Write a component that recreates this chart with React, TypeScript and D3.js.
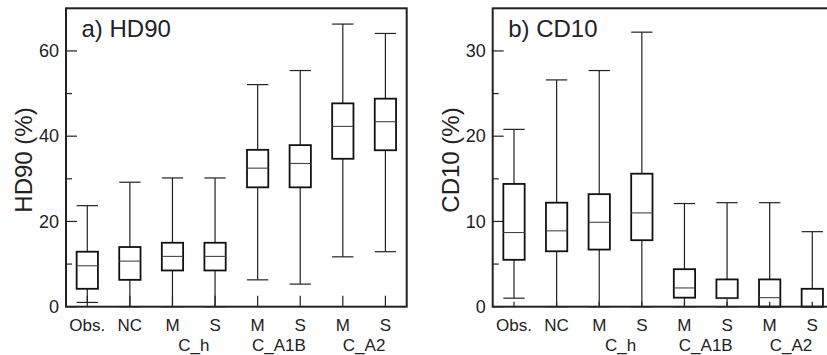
import React from "react";
import * as d3 from "d3";

const categories = ["Obs.", "NC", "M", "S", "M", "S", "M", "S"];
const groupLabels = ["C_h", "C_A1B", "C_A2"];
const groupStarts = [2, 4, 6];

const hd90Min = [1.0, 0, 0, 0, 6.3, 5.3, 11.7, 12.9];
const hd90Q1 = [4.2, 6.3, 8.5, 8.5, 28.0, 28.0, 34.7, 36.7];
const hd90Med = [9.6, 10.7, 11.8, 11.8, 32.5, 33.6, 42.3, 43.4];
const hd90Q3 = [12.9, 14.0, 15.0, 15.0, 36.8, 37.9, 47.7, 48.8];
const hd90Max = [23.7, 29.2, 30.2, 30.2, 52.1, 55.4, 66.3, 64.1];

const cd10Min = [1.0, 0, 0, 0, 0, 0, 0, 0];
const cd10Q1 = [5.5, 6.5, 6.7, 7.8, 1.06, 1.0, 0, 0];
const cd10Med = [8.7, 8.9, 9.9, 11.0, 2.2, 1.0, 1.06, 0];
const cd10Q3 = [14.4, 12.2, 13.2, 15.6, 4.4, 3.2, 3.2, 2.1];
const cd10Max = [20.8, 26.6, 27.7, 32.2, 12.1, 12.2, 12.2, 8.8];

const hd90Major = [0, 20, 40, 60];
const hd90Minor = [10, 30, 50];
const cd10Major = [0, 10, 20, 30];
const cd10Minor = [5, 15, 25];

const FONT = "'Liberation Sans', Arial, Helvetica, sans-serif";

type PanelProps = {
  x0: number;
  x1: number;
  yMax: number;
  title: string;
  yTitle: string;
  mins: number[];
  q1s: number[];
  meds: number[];
  q3s: number[];
  maxs: number[];
  major: number[];
  minor: number[];
  xTickLen: number;
};

function Panel(p: PanelProps) {
  const top = 8.3;
  const bottom = 306.7;
  const x = d3.scaleBand<number>().domain(d3.range(categories.length)).range([p.x0, p.x1]).padding(0);
  const y = d3.scaleLinear().domain([0, p.yMax]).range([bottom, top]);
  const bw = x.bandwidth();
  const boxW = bw * 0.5;
  const cx = (i: number) => (x(i) as number) + bw / 2;
  return (
    <g>
      {categories.map((_, i) => (
        <line key={"xt" + i} x1={cx(i)} x2={cx(i)} y1={bottom} y2={bottom - p.xTickLen} stroke="#222" strokeWidth={1.2} />
      ))}
      {p.major.map((v) => (
        <line key={"ym" + v} x1={p.x0} x2={p.x0 + 11} y1={y(v)} y2={y(v)} stroke="#222" strokeWidth={1.2} />
      ))}
      {p.minor.map((v) => (
        <line key={"yn" + v} x1={p.x0} x2={p.x0 + 6} y1={y(v)} y2={y(v)} stroke="#222" strokeWidth={1.2} />
      ))}
      {p.major.map((v) => (
        <text key={"yl" + v} x={p.x0 - 7} y={y(v)} dy="0.35em" textAnchor="end" fontSize={18} fill="#222" fontFamily={FONT}>
          {v}
        </text>
      ))}
      {categories.map((_, i) => {
        const c = cx(i);
        return (
          <g key={"b" + i}>
            <line x1={c} x2={c} y1={y(p.q3s[i])} y2={y(p.maxs[i])} stroke="#222" strokeWidth={1.2} />
            <line x1={c} x2={c} y1={y(p.q1s[i])} y2={y(p.mins[i])} stroke="#222" strokeWidth={1.2} />
            <line x1={c - boxW / 2} x2={c + boxW / 2} y1={y(p.maxs[i])} y2={y(p.maxs[i])} stroke="#222" strokeWidth={1.2} />
            <line x1={c - boxW / 2} x2={c + boxW / 2} y1={y(p.mins[i])} y2={y(p.mins[i])} stroke="#222" strokeWidth={1.2} />
            <rect x={c - boxW / 2} y={y(p.q3s[i])} width={boxW} height={y(p.q1s[i]) - y(p.q3s[i])} fill="none" stroke="#111" strokeWidth={1.8} />
            <line x1={c - boxW / 2} x2={c + boxW / 2} y1={y(p.meds[i])} y2={y(p.meds[i])} stroke="#444" strokeWidth={1.1} />
          </g>
        );
      })}
      <rect x={p.x0} y={top} width={p.x1 - p.x0} height={bottom - top} fill="none" stroke="#222" strokeWidth={2} />
      {categories.map((c, i) => (
        <text key={"xl" + i} x={cx(i)} y={331} textAnchor="middle" fontSize={17} fill="#222" fontFamily={FONT}>
          {c}
        </text>
      ))}
      {groupLabels.map((g, k) => (
        <text
          key={"gl" + k}
          x={(cx(groupStarts[k]) + cx(groupStarts[k] + 1)) / 2}
          y={351}
          textAnchor="middle"
          fontSize={17}
          fill="#222"
          fontFamily={FONT}
        >
          {g}
        </text>
      ))}
      <text x={p.x0 + 15.5} y={37} fontSize={24} fill="#222" fontFamily={FONT}>
        {p.title}
      </text>
      <text
        transform={`translate(${p.x0 - 34},${160}) rotate(-90)`}
        textAnchor="middle"
        fontSize={24}
        fill="#222"
        fontFamily={FONT}
      >
        {p.yTitle}
      </text>
    </g>
  );
}

export default function App() {
  return (
    <svg
      width={827}
      height={355}
      style={{ position: "absolute", left: 0, top: 0, background: "#fff", overflow: "hidden" }}
    >
      <rect x={0} y={0} width={827} height={355} fill="#fff" />
      <Panel
        x0={66}
        x1={406.7}
        yMax={70}
        title="a) HD90"
        yTitle="HD90 (%)"
        mins={hd90Min}
        q1s={hd90Q1}
        meds={hd90Med}
        q3s={hd90Q3}
        maxs={hd90Max}
        major={hd90Major}
        minor={hd90Minor}
        xTickLen={11}
      />
      <Panel
        x0={492.7}
        x1={833.6}
        yMax={35}
        title="b) CD10"
        yTitle="CD10 (%)"
        mins={cd10Min}
        q1s={cd10Q1}
        meds={cd10Med}
        q3s={cd10Q3}
        maxs={cd10Max}
        major={cd10Major}
        minor={cd10Minor}
        xTickLen={5}
      />
    </svg>
  );
}
